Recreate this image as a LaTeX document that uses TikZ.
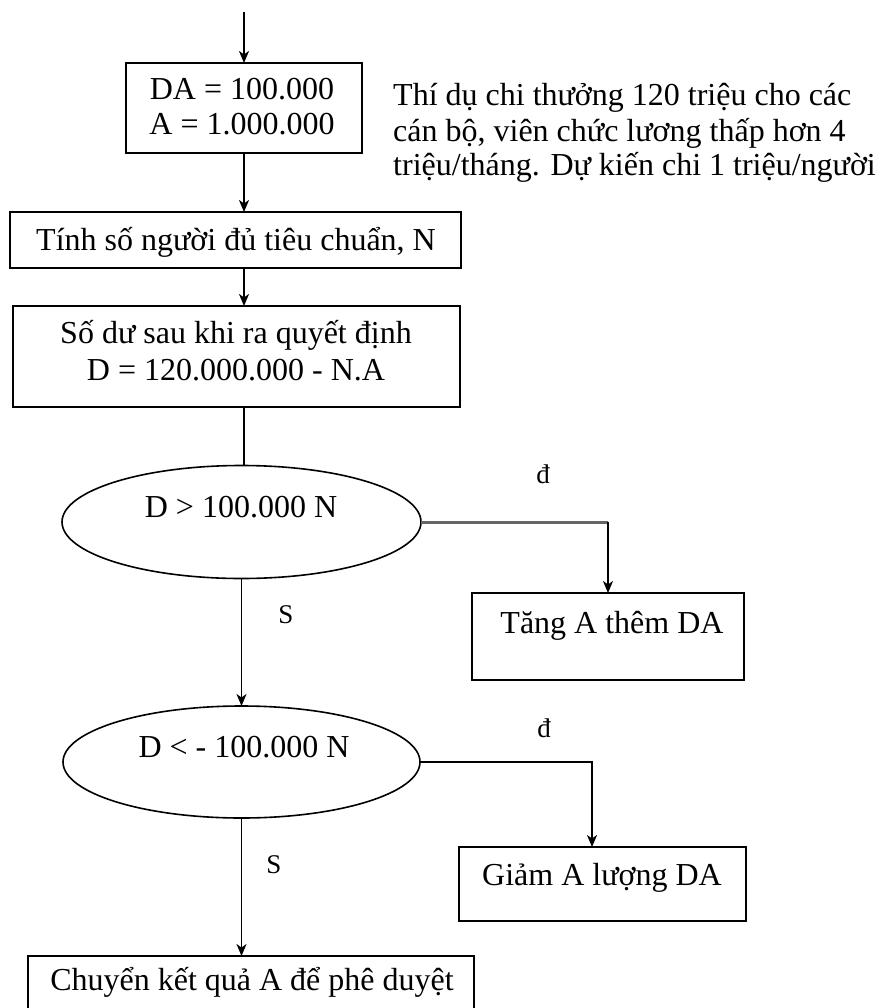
\documentclass[tikz,border=0pt]{standalone}
\usepackage{fontspec}
\setmainfont{Liberation Serif}
\usetikzlibrary{shapes.geometric,arrows.meta}

\begin{document}
\begin{tikzpicture}[x=1pt,y=-1pt,
  txt/.style={font=\fontsize{32}{35}\selectfont, inner sep=0pt, anchor=base},
  lbl/.style={font=\fontsize{27}{29}\selectfont, inner sep=0pt, anchor=base},
  stepbox/.style={draw, line width=1.8pt, inner sep=0pt, outer sep=0pt},
  test/.style={draw, ellipse, line width=1.6pt, inner sep=0pt, outer sep=0pt},
  link/.style={line width=1.8pt},
  arr/.style={line width=1.8pt, -{Stealth[length=12pt,width=10pt,inset=3.5pt]}}]

\useasboundingbox (0,0) rectangle (876,1008);
\clip (0,0) rectangle (876,1008);

% process boxes
\node[stepbox, minimum width=236, minimum height=90] (b1) at (244,108) {};
\node[stepbox, minimum width=451, minimum height=56] (b2) at (235.5,240) {};
\node[stepbox, minimum width=447, minimum height=101] (b3) at (236.5,356.5) {};
\node[stepbox, minimum width=272, minimum height=87] (b4) at (608,636.5) {};
\node[stepbox, minimum width=287, minimum height=74] (b5) at (602.5,884) {};
\node[stepbox, minimum width=446, minimum height=78] (b6) at (251,995) {};

% decisions
\node[test, minimum width=359, minimum height=113] (q1) at (241.5,522) {};
\node[test, minimum width=357, minimum height=112] (q2) at (241.5,762) {};

% texts
\node[txt] (t1a) at (242,100) {DA = 100.000};
\node[txt] (t1b) at (242,135) {A = 1.000.000};
\node[txt] (t2) at (236,250) {Tính số người đủ tiêu chuẩn, N};
\node[txt] (t3a) at (236,343) {Số dư sau khi ra quyết định};
\node[txt] (t3b) at (236,380) {D = 120.000.000 - N.A};
\node[txt] (tq1) at (241,517) {D > 100.000 N};
\node[txt] (t4) at (612,633) {Tăng A thêm DA};
\node[txt] (tq2) at (244,757) {D < - 100.000 N};
\node[txt] (t5) at (602,885) {Giảm A lượng DA};
\node[txt] (t6) at (252,990) {Chuyển kết quả A để phê duyệt};

% note beside the first box
\node[txt, anchor=base west] (n1) at (393,106) {Thí dụ chi thưởng 120 triệu cho các};
\node[txt, anchor=base west] (n2) at (393,142) {cán bộ, viên chức lương thấp hơn 4};
\node[txt, anchor=base west] (n3) at (393,176) {triệu/tháng. Dự kiến chi 1 triệu/người};

% branch labels
\node[lbl] (d1) at (543,483) {đ};
\node[lbl] (s1) at (286,623) {S};
\node[lbl] (d2) at (544,737) {đ};
\node[lbl] (s2) at (274,873) {S};

% connectors
\coordinate (start) at (244,12);
\coordinate (c5) at (592,0);
\draw[arr] (start) -- (b1.north);
\draw[arr] (b1.south) -- (b1.south |- b2.north);
\draw[arr] (b1.south |- b2.south) -- (b1.south |- b3.north);
\draw[link] (b1.south |- b3.south) -- (b1.south |- q1.north);
\draw[arr] (q1.south) -- (q2.north);
\draw[arr] (q2.south) -- (q2.south |- b6.north);
\draw[line width=3pt, black!60] (q1.east) -- (q1.east -| b4.north);
\draw[arr] (q1.east -| b4.north) -- (b4.north);
\draw[arr] (q2.east) -| (c5 |- b5.north);
\end{tikzpicture}
\end{document}
